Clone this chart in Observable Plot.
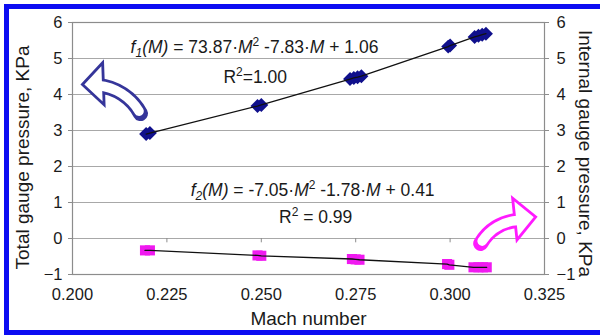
<!DOCTYPE html>
<html>
<head>
<meta charset="utf-8">
<script src="https://cdn.jsdelivr.net/npm/d3@7"></script>
<script src="https://cdn.jsdelivr.net/npm/@observablehq/plot@0.6"></script>
<style>
  html, body { margin: 0; padding: 0; background: #fff; }
  #wrap { position: relative; width: 600px; height: 335px; overflow: hidden; }
  #border { position: absolute; left: 4px; top: 4px; width: 620px; height: 331px; box-sizing: border-box; border: 5px solid #0c0cf2; pointer-events: none; }
</style>
</head>
<body>
<div id="wrap"><div id="chart"></div><div id="border"></div></div>
<script>
// ---- data ----
const totalMach = [0.2195, 0.2205, 0.2490, 0.2500, 0.2735, 0.2745, 0.2755, 0.2765, 0.2995, 0.3000, 0.3065, 0.3075, 0.3085, 0.3095];
const totalPressure = [2.90, 2.93, 3.68, 3.71, 4.43, 4.46, 4.48, 4.51, 5.33, 5.36, 5.60, 5.63, 5.66, 5.69];
const internalMach = [0.2192, 0.2205, 0.2490, 0.2500, 0.2740, 0.2750, 0.2760, 0.2992, 0.2998, 0.3062, 0.3075, 0.3087, 0.3097];
const internalPressure = [-0.33, -0.33, -0.47, -0.48, -0.57, -0.58, -0.59, -0.71, -0.73, -0.80, -0.80, -0.80, -0.80];
const xTicks = [0.200, 0.225, 0.250, 0.275, 0.300, 0.325];
const yTicks = [-1, 0, 1, 2, 3, 4, 5, 6];
const leftTitle = "Total gauge pressure, KPa";
const rightTitle = "Internal gauge pressure, KPa";
const xTitle = "Mach number";
// annotation texts (segments: i = italic, sub / sup)
const eq1 = [{t:"f",i:1},{t:"1",i:1,sub:1},{t:"(M)",i:1},{t:" = 73.87·"},{t:"M",i:1},{t:"2",sup:1},{t:" -7.83·"},{t:"M",i:1},{t:" + 1.06"}];
const r1 = [{t:"R"},{t:"2",sup:1},{t:"=1.00"}];
const eq2 = [{t:"f",i:1},{t:"2",i:1,sub:1},{t:"(M)",i:1},{t:" = -7.05·"},{t:"M",i:1},{t:"2",sup:1},{t:" -1.78·"},{t:"M",i:1},{t:" + 0.41"}];
const r2 = [{t:"R"},{t:"2",sup:1},{t:" = 0.99"}];
const labelX = [0.2482, 0.2484, 0.2636, 0.2644];
const labelY = [5.30, 4.47, 1.33, 0.58];
// curved block arrows: shaft start/end and head centre (data units), head rotation
const arrowColor = ["#35359a", "#ff1aff"];
const arrowX1 = [0.2180, 0.3081];
const arrowY1 = [3.47, -0.14];
const arrowX2 = [0.2068, 0.3178];
const arrowY2 = [4.25, 0.50];
const arrowBend = [-28, 28];
const headX = [0.2054, 0.3199];
const headY = [4.29, 0.57];
const headRotate = [-92, 84];

// ---- build tables ----
const total = totalMach.map((m, i) => ({m, p: totalPressure[i]}));
const internal = internalMach.map((m, i) => ({m, p: internalPressure[i]}));
const segs = [eq1, r1, eq2, r2];
const plain = s => s.map(d => d.t).join("");
const labels = segs.map((s, i) => ({x: labelX[i], y: labelY[i], text: plain(s)}));
const arrows = arrowX1.map((x1, i) => ({x1, y1: arrowY1[i], x2: arrowX2[i], y2: arrowY2[i], bend: arrowBend[i], color: arrowColor[i], hx: headX[i], hy: headY[i], rot: headRotate[i]}));

const headSymbol = {
  draw(ctx, size) {
    const r = Math.sqrt(size / Math.PI);
    ctx.moveTo(0, -0.5 * r);
    ctx.lineTo(r, 0.5 * r);
    ctx.lineTo(-r, 0.5 * r);
    ctx.closePath();
  }
};

const font = "'Liberation Sans', Arial, sans-serif";
const arrowMarks = [];
arrows.forEach(a => {
  arrowMarks.push(Plot.arrow([a], {x1: "x1", y1: "y1", x2: "x2", y2: "y2", bend: a.bend, headLength: 0, stroke: a.color, strokeWidth: 15}));
  arrowMarks.push(Plot.dot([a], {x: "hx", y: "hy", symbol: headSymbol, r: 21, fill: "white", stroke: a.color, strokeWidth: 2.8, rotate: a.rot}));
  arrowMarks.push(Plot.arrow([a], {x1: "x1", y1: "y1", x2: "x2", y2: "y2", bend: a.bend, headLength: 0, stroke: "white", strokeWidth: 9.5, insetStart: 2.8}));
});

const chart = Plot.plot({
  width: 600,
  height: 335,
  marginLeft: 72,
  marginRight: 56,
  marginTop: 22,
  marginBottom: 61,
  style: {fontFamily: font, fontSize: "16px", background: "white", color: "#1a1a1a"},
  x: {domain: [0.2, 0.325]},
  y: {domain: [-1, 6]},
  marks: [
    Plot.gridY(yTicks, {stroke: "#a8a8a8", strokeOpacity: 1}),
    Plot.frame({stroke: "#8c8c8c", strokeWidth: 1.2}),
    Plot.ruleX(xTicks, {y1: 0, y2: -0.12, stroke: "#8c8c8c"}),
    Plot.axisY(yTicks, {anchor: "left", tickSize: 4, tickPadding: 6, label: null, stroke: "#8c8c8c", fontSize: 16.5}),
    Plot.axisY(yTicks, {anchor: "right", tickSize: 4, tickPadding: 8, label: null, stroke: "#8c8c8c", fontSize: 16.5}),
    Plot.axisX(xTicks, {anchor: "bottom", tickSize: 0, tickPadding: 14, label: null, tickFormat: d3.format(".3f"), fontSize: 16.5}),
    Plot.text([leftTitle], {frameAnchor: "left", textAnchor: "middle", rotate: -90, dx: -50, dy: 9, fontSize: 19, fill: "#1a1a1a"}),
    Plot.text([rightTitle], {frameAnchor: "right", textAnchor: "middle", rotate: 90, dx: 41, dy: 5, fontSize: 19, fill: "#1a1a1a"}),
    Plot.text([xTitle], {frameAnchor: "bottom", dy: 50, fontSize: 19, fill: "#1a1a1a"}),
    ...arrowMarks,
    Plot.dot(total, {x: "m", y: "p", symbol: "diamond2", r: 6.3, fill: "#10108c"}),
    Plot.dot(internal, {x: "m", y: "p", symbol: "square", r: 5.7, fill: "#f01af0"}),
    Plot.line(total, {x: "m", y: "p", stroke: "#111", strokeWidth: 1.3}),
    Plot.line(internal, {x: "m", y: "p", stroke: "#111", strokeWidth: 1.3}),
    Plot.text(labels, {x: "x", y: "y", text: "text", fontSize: 17.5, fill: "#1a1a1a"})
  ]
});
document.getElementById("chart").appendChild(chart);

// rich text for equations
const ns = "http://www.w3.org/2000/svg";
const lookup = new Map(segs.map(s => [plain(s), s]));
chart.querySelectorAll("text").forEach(el => {
  const s = lookup.get(el.textContent);
  if (!s) return;
  while (el.firstChild) el.removeChild(el.firstChild);
  let shift = 0;
  s.forEach(d => {
    const ts = document.createElementNS(ns, "tspan");
    ts.textContent = d.t;
    if (d.i) ts.setAttribute("font-style", "italic");
    let target = 0;
    if (d.sup) { ts.setAttribute("font-size", "12"); target = -7; }
    if (d.sub) { ts.setAttribute("font-size", "12"); target = 4; }
    if (target !== shift) { ts.setAttribute("dy", target - shift); shift = target; }
    el.appendChild(ts);
  });
});
</script>
</body>
</html>
